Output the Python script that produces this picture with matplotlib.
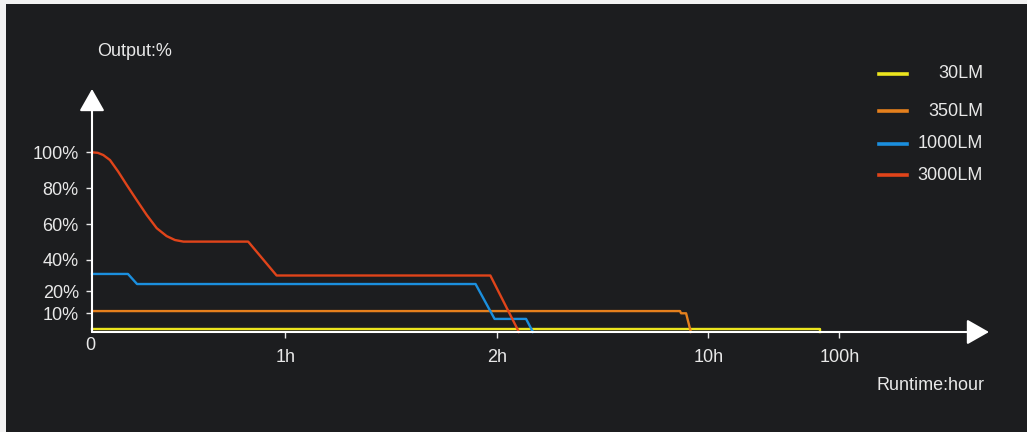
import numpy as np
import matplotlib
matplotlib.use("Agg")
import matplotlib.pyplot as plt
from matplotlib.lines import Line2D
from matplotlib.patches import Rectangle

# data (hours, output %)
hours_30 = [0, 86.7, 86.7]
out_30 = [1.5, 1.5, 0]
hours_350 = [0, 8.93, 8.97, 9.16, 9.34]
out_350 = [11, 11, 10, 10, 0]
hours_1000 = [0, 0.186, 0.233, 1.90, 1.99, 3.11, 3.37]
out_1000 = [31, 31, 24.5, 24.5, 7, 7, 0]
hours_3000 = [0, 0.03, 0.058, 0.093, 0.136, 0.180, 0.231, 0.283, 0.335, 0.386,
              0.429, 0.473, 0.808, 0.955, 1.97, 2.84]
out_3000 = [100, 99.7, 98.5, 95.7, 89.2, 81.8, 73.5, 65.2, 57.8, 53.4,
            51.2, 50.3, 50.3, 30, 30, 0]
labels = ["30LM", "350LM", "1000LM", "3000LM"]
colors = ["#ece51e", "#e5801d", "#1b8fde", "#e0441a"]

x_ticks = [1, 2, 10, 100]
x_ticklabels = ["1h", "2h", "10h", "100h"]
y_ticks = [10, 20, 40, 60, 80, 100]
y_ticklabels = ["10%", "20%", "40%", "60%", "80%", "100%"]

# the chart uses uneven spacing on both axes
xa_h = [0, 1, 2, 10, 100, 1000]
xa_s = [0, 193.3, 404.7, 616.3, 747.3, 897]
ya_p = [0, 10, 20, 40, 60, 80, 100, 135]
ya_s = [0, 18.7, 41, 72, 107.7, 143.7, 179.7, 243]

def fx(v): return np.interp(v, xa_h, xa_s)
def ix(v): return np.interp(v, xa_s, xa_h)
def fy(v): return np.interp(v, ya_p, ya_s)
def iy(v): return np.interp(v, ya_s, ya_p)

bg = "#1c1d1f"
fg = "#e8e8e8"
fs = 13
plt.rcParams['font.family'] = ['Liberation Sans', 'DejaVu Sans']

fig = plt.figure(figsize=(10.27, 4.32), dpi=100, facecolor="#f2f2f2")
fig.add_artist(Rectangle((6 / 1027, 0), 1, 428 / 432, transform=fig.transFigure,
                         facecolor=bg, edgecolor="none", zorder=0))
ax = fig.add_axes([92 / 1027, 100 / 432, 897 / 1027, 243 / 432])
ax.set_facecolor("none")
ax.set_xscale("function", functions=(fx, ix))
ax.set_yscale("function", functions=(fy, iy))
ax.set_xlim(0, 1000)
ax.set_ylim(0, 135)

for h, o, c in [(hours_30, out_30, colors[0]), (hours_350, out_350, colors[1]),
                (hours_1000, out_1000, colors[2]), (hours_3000, out_3000, colors[3])]:
    ax.plot(h, o, color=c, lw=1.7, clip_on=False, solid_joinstyle="round")

for s in ax.spines.values():
    s.set_visible(False)
arrow = dict(arrowstyle="-|>,head_length=1.37,head_width=0.78", color="white",
             lw=1.5, shrinkA=0, shrinkB=0, mutation_scale=10)
ax.annotate("", xy=(1, 0), xytext=(0, 0), xycoords="axes fraction", arrowprops=arrow)
ax.annotate("", xy=(0, 1), xytext=(0, 0), xycoords="axes fraction", arrowprops=arrow)

ax.set_xticks(x_ticks)
ax.set_xticklabels(x_ticklabels)
ax.set_yticks(y_ticks)
ax.set_yticklabels(y_ticklabels)
ax.minorticks_off()
ax.tick_params(axis="x", colors=fg, labelsize=fs, length=4.5, width=1, pad=7.5)
ax.tick_params(axis="y", colors=fg, labelsize=fs, length=4.5, width=1, pad=5)
ax.annotate("0", xy=(0, 0), xytext=(-1, -3.5), textcoords="offset points",
            ha="center", va="top", color=fg, fontsize=fs)

fig.text(97 / 1027, 1 - 52 / 432, "Output:%", color=fg, fontsize=fs, va="center")
fig.text(985 / 1027, 1 - 386 / 432, "Runtime:hour", color=fg, fontsize=fs,
         va="center", ha="right")

# legend
leg_y = [74, 111, 144, 175]
for lab, c, yy in zip(labels, colors, leg_y):
    fig.add_artist(Line2D([879 / 1027, 907 / 1027], [1 - yy / 432] * 2, color=c, lw=2.6,
                          transform=fig.transFigure))
    fig.text(983 / 1027, 1 - yy / 432, lab, color=fg, fontsize=fs, va="center", ha="right")

fig.savefig("out.png", dpi=100, facecolor=fig.get_facecolor())
